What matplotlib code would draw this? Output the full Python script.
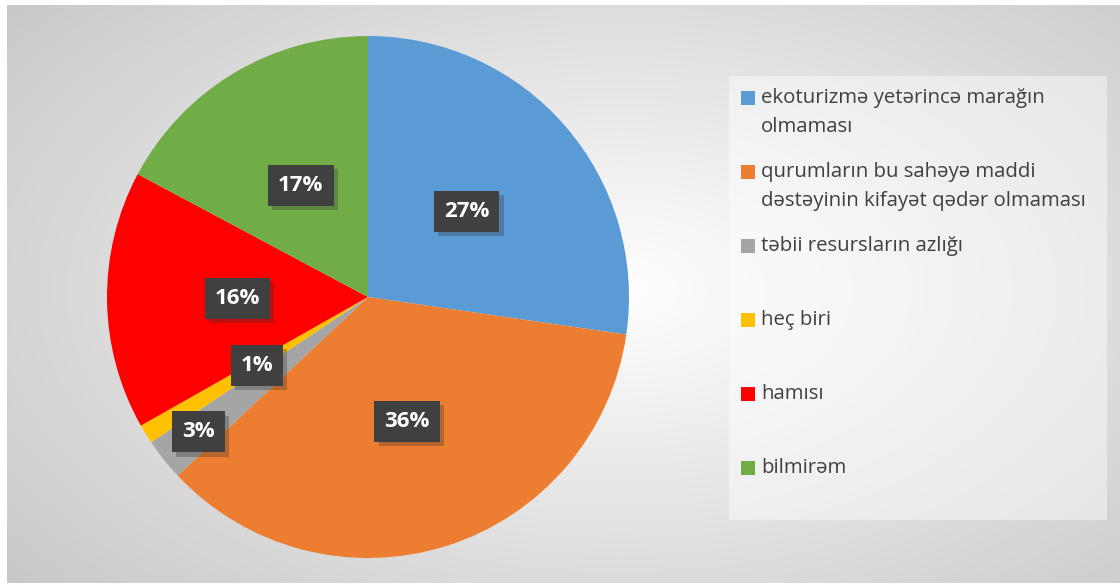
import numpy as np
import matplotlib.pyplot as plt
import matplotlib.patheffects as pe
from matplotlib.patches import Rectangle

# data (percent of answers)
labels = ['ekoturizmə yetərincə marağın\nolmaması',
          'qurumların bu sahəyə maddi\ndəstəyinin kifayət qədər olmaması',
          'təbii resursların azlığı',
          'heç biri',
          'hamısı',
          'bilmirəm']
values = [27.3, 35.7, 2.6, 1.2, 16.0, 17.2]
colors = ['#5B9BD5', '#ED7D31', '#A5A5A5', '#FFC000', '#FF0000', '#70AD47']

plt.rcParams['font.family'] = ['Open Sans', 'DejaVu Sans']

W, H = 1120, 585
fig = plt.figure(figsize=(W / 100, H / 100), dpi=100, facecolor='white')

def px(x, y, w, h):
    # pixel box (top-left origin) -> figure fraction
    return [x / W, 1 - (y + h) / H, w / W, h / H]

# radial grey background
bg = fig.add_axes(px(7, 5, 1113, 578))
gx, gy = np.meshgrid(np.linspace(7, 1120, 400), np.linspace(5, 583, 220))
d = np.sqrt(((gx - 620) / 700) ** 2 + ((gy - 290) / 400) ** 2)
v = np.clip(255 - 48 * d, 190, 255) / 255
bg.imshow(np.dstack([v, v, v]), aspect='auto', extent=[0, 1, 0, 1])
bg.set_axis_off()

# legend panel
leg = fig.add_axes(px(729, 76, 378, 444))
leg.set_xlim(0, 378)
leg.set_ylim(444, 0)
leg.add_patch(Rectangle((0, 0), 378, 444, facecolor='white', alpha=0.45, lw=0))
leg.set_axis_off()
for i, (lab, c) in enumerate(zip(labels, colors)):
    y0 = 22 + i * 74
    leg.add_patch(Rectangle((12, y0 - 7), 14, 14, facecolor=c, lw=0))
    for k, line in enumerate(lab.split('\n')):
        leg.text(32, y0 + k * 29, line, va='center', ha='left',
                 fontsize=14.7, color='#404040')

# pie
R = 261
ax = fig.add_axes(px(368 - R, 297 - R, 2 * R, 2 * R))
wedges, texts, autotexts = ax.pie(values, colors=colors, startangle=90,
                                  counterclock=False, radius=1,
                                  autopct='%.0f%%', pctdistance=0.5,
                                  wedgeprops=dict(linewidth=0))
ax.set_xlim(-1, 1)
ax.set_ylim(-1, 1)
ax.set_aspect('equal')
ax.set_axis_off()

for w, t in zip(wedges, autotexts):
    t.set_color('white')
    t.set_fontweight('bold')
    t.set_fontsize(16)
    t.set_bbox(dict(boxstyle='square,pad=0.45', facecolor='#404040',
                    edgecolor='none', linewidth=0))
    t.get_bbox_patch().set_path_effects(
        [pe.SimplePatchShadow(offset=(3, -3), shadow_rgbFace='#303030',
                              alpha=0.3), pe.Normal()])

# the thin grey slice has its label pushed outwards
w = wedges[2]
ang = np.deg2rad((w.theta1 + w.theta2) / 2)
autotexts[2].set_position((0.83 * np.cos(ang), 0.83 * np.sin(ang)))

fig.savefig('out.png', dpi=100, facecolor='white')
